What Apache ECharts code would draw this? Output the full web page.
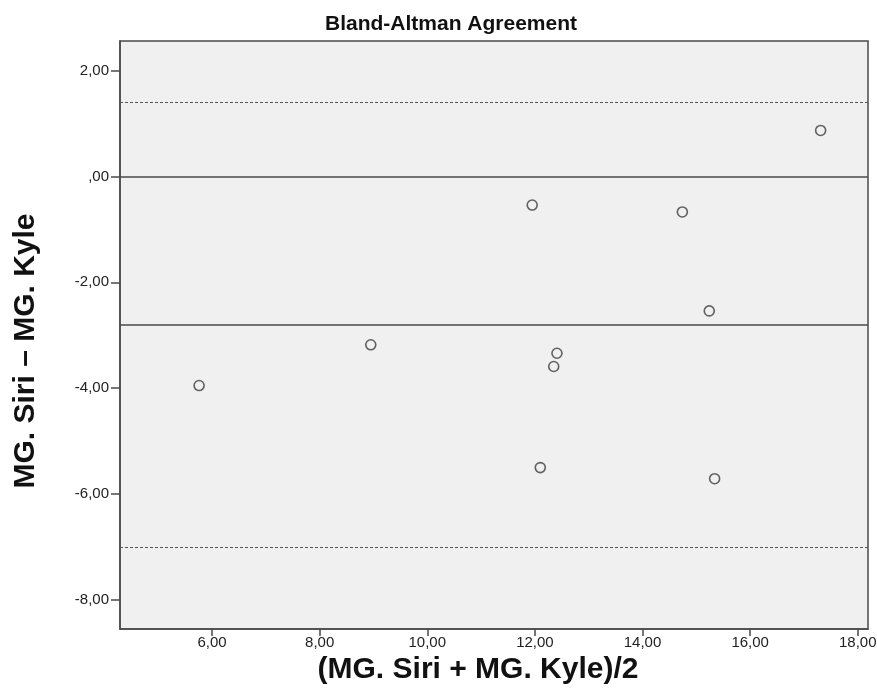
<!DOCTYPE html>
<html>
<head>
<meta charset="utf-8">
<script src="https://cdn.jsdelivr.net/npm/echarts@6/dist/echarts.min.js"></script>
<style>
html,body{margin:0;padding:0;background:#fff;}
#chart{width:877px;height:700px;}
</style>
</head>
<body>
<div id="chart"></div>
<script>
// Data
const meanVals = [5.76, 8.95, 11.95, 12.41, 12.35, 17.31, 14.74, 15.24, 12.10, 15.34];
const diffVals = [-3.95, -3.18, -0.54, -3.34, -3.59, 0.87, -0.67, -2.54, -5.50, -5.71];
const zeroLine = 0;
const meanDiff = -2.80;
const upperLoA = 1.40;
const lowerLoA = -7.00;
const xTicks = [6, 8, 10, 12, 14, 16, 18];
const yTicks = [-8, -6, -4, -2, 0, 2];
const xTickLabels = ['6,00', '8,00', '10,00', '12,00', '14,00', '16,00', '18,00'];
const yTickLabels = ['-8,00', '-6,00', '-4,00', '-2,00', ',00', '2,00'];

const titleText = 'Bland-Altman Agreement';
const xName = '(MG. Siri + MG. Kyle)/2';
const yName = 'MG. Siri \u2013 MG. Kyle';

function labelFor(ticks, labels) {
  return function (v) {
    for (let i = 0; i < ticks.length; i++) {
      if (Math.abs(ticks[i] - v) < 1e-6) return labels[i];
    }
    return '';
  };
}

const points = meanVals.map((x, i) => [x, diffVals[i]]);
const FONT = '"Liberation Sans", Arial, sans-serif';
const LINE = '#4a4a4a';

const chart = echarts.init(document.getElementById('chart'), null, { renderer: 'canvas' });
chart.setOption({
  animation: false,
  backgroundColor: '#ffffff',
  title: {
    text: titleText,
    left: 320,
    top: 9,
    textStyle: { fontFamily: FONT, fontWeight: 'bold', fontSize: 21, color: '#111' }
  },
  grid: {
    left: 120, right: 9, top: 41, bottom: 71,
    outerBoundsMode: 'none',
    containLabel: false,
    show: true,
    backgroundColor: '#f0f0f0',
    borderColor: LINE,
    borderWidth: 1.5
  },
  xAxis: {
    type: 'value',
    min: 4.29, max: 18.19,
    name: xName,
    nameLocation: 'middle',
    nameGap: 25,
    nameTextStyle: { fontFamily: FONT, fontWeight: 'bold', fontSize: 30, color: '#111', verticalAlign: 'top', padding: [0, 32, 0, 0] },
    axisLine: { show: true, onZero: false, lineStyle: { color: LINE, width: 1.5 } },
    axisTick: { show: true, length: 7, customValues: xTicks, lineStyle: { color: LINE, width: 1.5 } },
    axisLabel: { customValues: xTicks, formatter: labelFor(xTicks, xTickLabels), fontFamily: FONT, fontSize: 15, color: '#222', margin: 6 },
    splitLine: { show: false }
  },
  yAxis: {
    type: 'value',
    min: -8.55, max: 2.56,
    name: yName,
    nameLocation: 'middle',
    nameGap: 79,
    nameTextStyle: { fontFamily: FONT, fontWeight: 'bold', fontSize: 30, color: '#111', padding: [0, 32, 0, 0] },
    axisLine: { show: true, onZero: false, lineStyle: { color: LINE, width: 1.5 } },
    axisTick: { show: true, length: 9, customValues: yTicks, lineStyle: { color: LINE, width: 1.5 } },
    axisLabel: { customValues: yTicks, formatter: labelFor(yTicks, yTickLabels), fontFamily: FONT, fontSize: 15, color: '#222', margin: 11 },
    splitLine: { show: false }
  },
  series: [{
    type: 'scatter',
    data: points,
    symbol: 'circle',
    symbolSize: 10,
    itemStyle: { color: 'rgba(0,0,0,0)', borderColor: '#3c3c3c', borderWidth: 1.6 },
    silent: true,
    markLine: {
      silent: true,
      symbol: ['none', 'none'],
      label: { show: false },
      data: [
        { yAxis: zeroLine, lineStyle: { type: 'solid', color: LINE, width: 1.5 } },
        { yAxis: meanDiff, lineStyle: { type: 'solid', color: LINE, width: 1.5 } },
        { yAxis: upperLoA, lineStyle: { type: [3, 2], color: '#555', width: 1.2 } },
        { yAxis: lowerLoA, lineStyle: { type: [3, 2], color: '#555', width: 1.2 } }
      ]
    }
  }]
});
</script>
</body>
</html>
